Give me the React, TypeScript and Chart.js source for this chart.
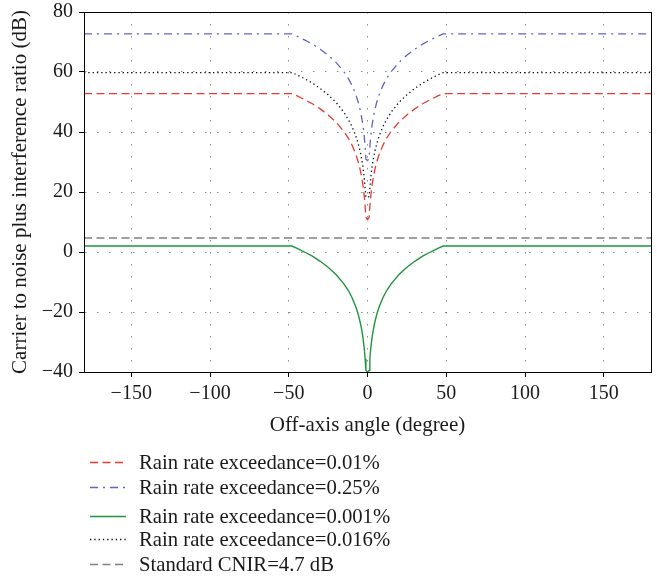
import React, { useEffect, useRef } from "react";
import { Chart, registerables } from "chart.js";

Chart.register(...registerables);

// Off-axis angle (degree)
const angles = [
  -180, -48, -45, -40, -35, -30, -25, -20, -15, -12, -10, -8, -7, -6, -5, -4, -3, -2.5, -2, -1.5, -1, 0,
  1, 1.5, 2, 2.5, 3, 4, 5, 6, 7, 8, 10, 12, 15, 20, 25, 30, 35, 40, 45, 48, 180,
];

// Rain rate exceedance = 0.01%
const rain001 = [
  52.8, 52.8, 52.1, 50.8, 49.4, 47.7, 45.7, 43.3, 40.2, 37.8, 35.8, 33.4, 31.9, 30.2, 28.2, 25.8, 22.7, 20.7, 18.3, 15.2, 11.5, 10.8,
  11.5, 15.2, 18.3, 20.7, 22.7, 25.8, 28.2, 30.2, 31.9, 33.4, 35.8, 37.8, 40.2, 43.3, 45.7, 47.7, 49.4, 50.8, 52.1, 52.8, 52.8,
];

// Rain rate exceedance = 0.25%
const rain025 = [
  72.7, 72.7, 72.0, 70.7, 69.3, 67.6, 65.6, 63.2, 60.1, 57.7, 55.7, 53.3, 51.8, 50.1, 48.1, 45.7, 42.6, 40.6, 38.2, 35.1, 31.0, 30.5,
  31.0, 35.1, 38.2, 40.6, 42.6, 45.7, 48.1, 50.1, 51.8, 53.3, 55.7, 57.7, 60.1, 63.2, 65.6, 67.6, 69.3, 70.7, 72.0, 72.7, 72.7,
];

// Rain rate exceedance = 0.001%
const rain0001 = [
  2.0, 2.0, 1.3, 0.0, -1.4, -3.1, -5.1, -7.5, -10.6, -13.0, -15.0, -17.5, -18.9, -20.6, -22.6, -25.0, -28.1, -30.1, -32.5, -35.6, -39.5, -40.0,
  -39.5, -35.6, -32.5, -30.1, -28.1, -25.0, -22.6, -20.6, -18.9, -17.5, -15.0, -13.0, -10.6, -7.5, -5.1, -3.1, -1.4, 0.0, 1.3, 2.0, 2.0,
];

// Rain rate exceedance = 0.016%
const rain0016 = [
  59.8, 59.8, 59.1, 57.8, 56.3, 54.5, 52.4, 49.9, 46.6, 44.0, 42.0, 39.5, 38.0, 36.3, 34.3, 31.9, 28.8, 26.8, 24.4, 21.3, 18.5, 18.0,
  18.5, 21.3, 24.4, 26.8, 28.8, 31.9, 34.3, 36.3, 38.0, 39.5, 42.0, 44.0, 46.6, 49.9, 52.4, 54.5, 56.3, 57.8, 59.1, 59.8, 59.8,
];

// Standard CNIR = 4.7 dB
const standardAngles = [-180, 180];
const standardCnir = [4.7, 4.7];

const seriesLabels = [
  "Rain rate exceedance=0.01%",
  "Rain rate exceedance=0.25%",
  "Rain rate exceedance=0.001%",
  "Rain rate exceedance=0.016%",
  "Standard CNIR=4.7 dB",
];

const FONT_FAMILY = "'Liberation Serif', 'Times New Roman', serif";
const TEXT_COLOR = "#1a1a1a";

const fmtTick = (v: number | string) => {
  const n = Number(v);
  return n < 0 ? "\u2212" + Math.abs(n) : String(n);
};

export default function App() {
  const canvasRef = useRef<HTMLCanvasElement>(null);

  useEffect(() => {
    const canvas = canvasRef.current;
    if (!canvas) return;

    const pts = (xs: number[], ys: number[]) => xs.map((x, i) => ({ x, y: ys[i] }));

    const framePlugin = {
      id: "frame",
      afterDatasetsDraw(chart: any) {
        const { ctx, chartArea } = chart;
        const { left, top, right, bottom } = chartArea;
        ctx.save();
        ctx.strokeStyle = "#000";
        ctx.lineWidth = 1;
        ctx.strokeRect(Math.round(left) + 0.5, Math.round(top) + 0.5, Math.round(right - left), Math.round(bottom - top));
        ctx.restore();
      },
    };

    const legendRows = [469, 494, 523, 546, 571];
    const legendPlugin = {
      id: "customLegend",
      afterDraw(chart: any) {
        const ctx = chart.ctx;
        ctx.save();
        chart.data.datasets.forEach((ds: any, i: number) => {
          const base = legendRows[i];
          const ly = base - 6.5;
          ctx.beginPath();
          ctx.setLineDash(ds.borderDash || []);
          ctx.strokeStyle = ds.borderColor;
          ctx.lineWidth = ds.borderWidth;
          ctx.moveTo(90, ly);
          ctx.lineTo(126, ly);
          ctx.stroke();
          ctx.setLineDash([]);
          ctx.fillStyle = TEXT_COLOR;
          ctx.font = `20.7px ${FONT_FAMILY}`;
          ctx.textBaseline = "alphabetic";
          ctx.textAlign = "left";
          ctx.fillText(ds.label, 139, base);
        });
        ctx.restore();
      },
    };

    const gridCommon = {
      color: "rgba(0,0,0,0.45)",
      lineWidth: 1,
      drawTicks: true,
      tickLength: 5,
      tickColor: "#000",
      tickWidth: 1,
      tickBorderDash: [],
    };
    const borderCommon = { display: true, color: "#000", width: 1, dash: [1.5, 10.5] };
    const tickFont = { family: FONT_FAMILY, size: 20 };
    const titleFont = { family: FONT_FAMILY, size: 21 };

    const chart = new Chart(canvas, {
      type: "line",
      data: {
        datasets: [
          {
            label: seriesLabels[0],
            data: pts(angles, rain001),
            borderColor: "rgb(232,58,48)",
            borderWidth: 1.3,
            borderDash: [8, 4.5],
          },
          {
            label: seriesLabels[1],
            data: pts(angles, rain025),
            borderColor: "rgb(98,98,200)",
            borderWidth: 1.3,
            borderDash: [8, 5, 2, 5],
          },
          {
            label: seriesLabels[2],
            data: pts(angles, rain0001),
            borderColor: "rgb(30,150,60)",
            borderWidth: 1.4,
            borderDash: [],
          },
          {
            label: seriesLabels[3],
            data: pts(angles, rain0016),
            borderColor: "rgb(10,10,10)",
            borderWidth: 1.3,
            borderDash: [1.3, 3],
          },
          {
            label: seriesLabels[4],
            data: pts(standardAngles, standardCnir),
            borderColor: "rgb(128,128,128)",
            borderWidth: 1.5,
            borderDash: [8, 4.5],
          },
        ] as any,
      },
      options: {
        animation: false,
        responsive: false,
        maintainAspectRatio: false,
        layout: { padding: { left: 0, top: 12, right: 6, bottom: 138 } },
        elements: { point: { radius: 0 }, line: { tension: 0, fill: false } },
        plugins: { legend: { display: false }, tooltip: { enabled: false } },
        scales: {
          x: {
            type: "linear",
            min: -180,
            max: 180,
            ticks: {
              stepSize: 50,
              includeBounds: false,
              font: tickFont,
              color: TEXT_COLOR,
              padding: 5,
              maxRotation: 0,
              callback: (v: any) => fmtTick(v),
            },
            grid: gridCommon as any,
            border: borderCommon as any,
            title: {
              display: true,
              text: "Off-axis angle (degree)",
              font: titleFont,
              color: TEXT_COLOR,
              padding: { top: 0, bottom: 4 },
            },
            afterFit: (s: any) => {
              s.height = 70;
            },
          } as any,
          y: {
            type: "linear",
            min: -40,
            max: 80,
            ticks: {
              stepSize: 20,
              font: tickFont,
              color: TEXT_COLOR,
              padding: 6,
              callback: (v: any) => fmtTick(v),
            },
            grid: gridCommon as any,
            border: borderCommon as any,
            title: {
              display: true,
              text: "Carrier to noise plus interference ratio (dB)",
              font: titleFont,
              color: TEXT_COLOR,
              padding: { top: 8, bottom: 0 },
            },
            afterFit: (s: any) => {
              s.width = 84;
              s.paddingTop = 0;
              s.paddingBottom = 0;
            },
          } as any,
        },
      },
      plugins: [framePlugin, legendPlugin],
    });

    return () => chart.destroy();
  }, []);

  return (
    <div style={{ position: "absolute", left: 0, top: 0, width: 657, height: 580, background: "#fff" }}>
      <canvas ref={canvasRef} width={657} height={580} style={{ width: 657, height: 580, display: "block" }} />
    </div>
  );
}
